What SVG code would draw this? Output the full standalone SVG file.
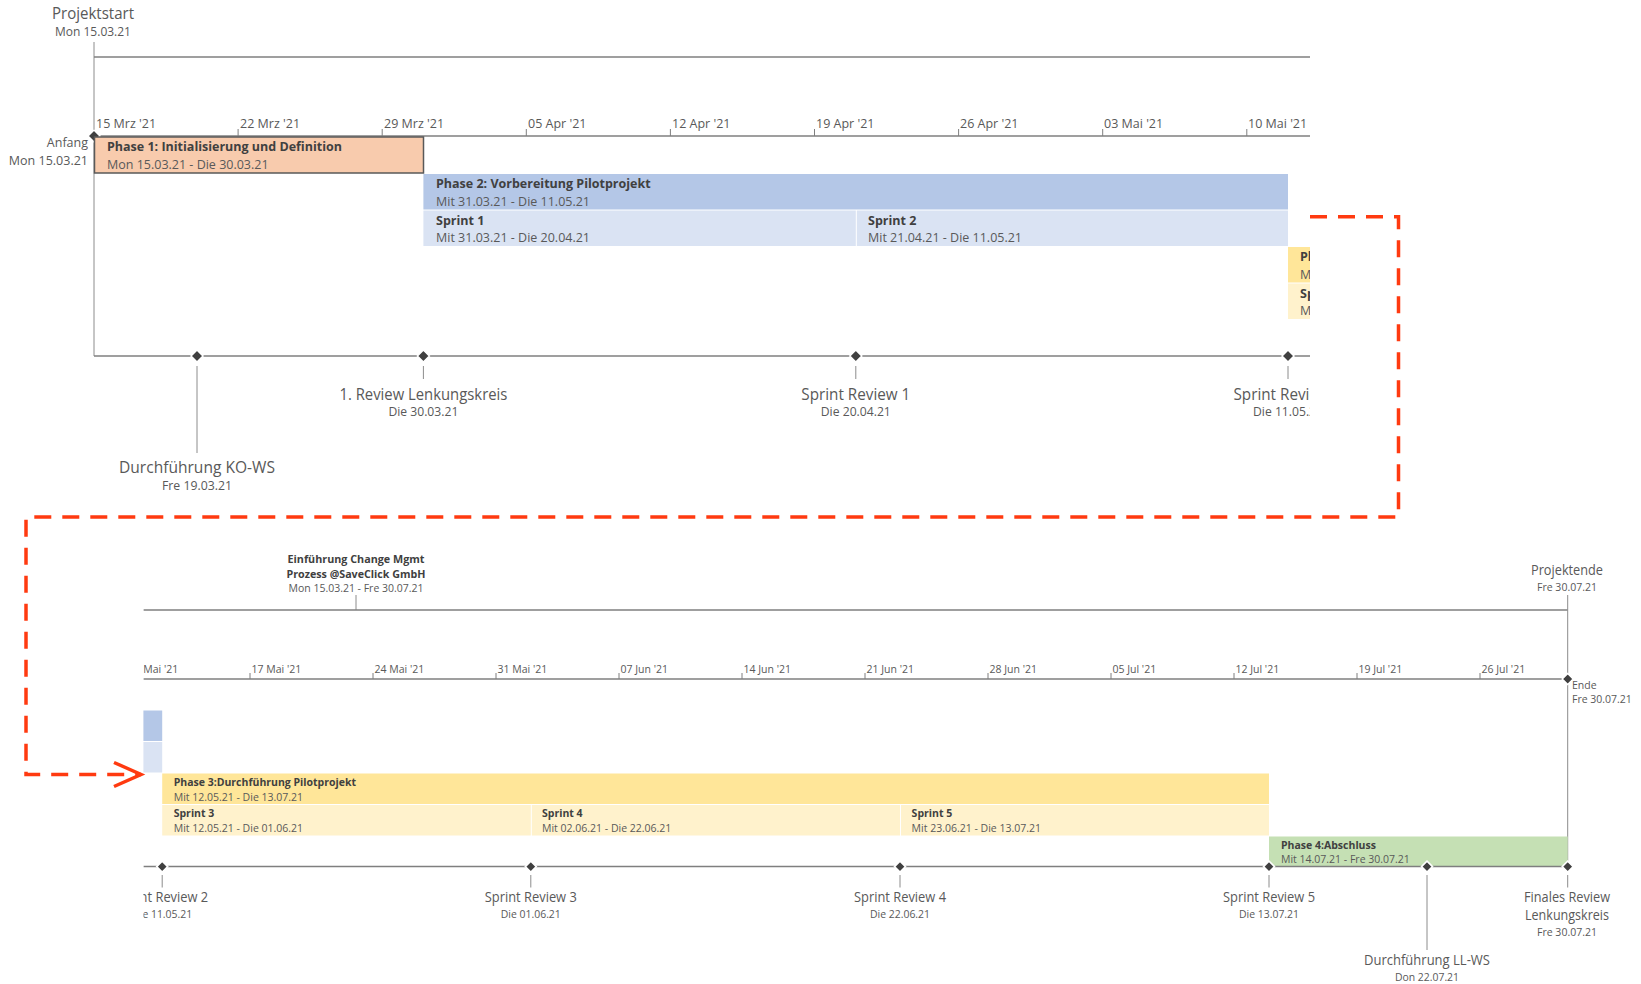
<svg xmlns="http://www.w3.org/2000/svg" width="1641" height="984" viewBox="0 0 1641 984">
<style>
.ax{stroke:#7f7f7f;stroke-width:1.5;fill:none}
.tk{stroke:#7f7f7f;stroke-width:1;fill:none}
.ln{stroke:#8c8c8c;stroke-width:1;fill:none}
.tl{font-family:"Open Sans","Noto Sans",sans-serif;font-size:12.5px;fill:#595959}
.tls{font-family:"Open Sans","Noto Sans",sans-serif;font-size:10.5px;fill:#595959}
.bt{font-family:"Open Sans","Noto Sans",sans-serif;font-size:12.5px;font-weight:700;fill:#404040}
.bd{font-family:"Open Sans","Noto Sans",sans-serif;font-size:12.5px;fill:#595959}
.bts{font-family:"Open Sans","Noto Sans",sans-serif;font-size:10.5px;font-weight:700;fill:#404040}
.bds{font-family:"Open Sans","Noto Sans",sans-serif;font-size:10.5px;fill:#595959}
.ml{font-family:"Open Sans","Noto Sans",sans-serif;font-size:17px;font-weight:400;fill:#595959}
.md{font-family:"Open Sans","Noto Sans",sans-serif;font-size:12.5px;fill:#595959}
.mls{font-family:"Open Sans","Noto Sans",sans-serif;font-size:14.5px;font-weight:400;fill:#595959}
.mds{font-family:"Open Sans","Noto Sans",sans-serif;font-size:10.5px;fill:#595959}
.dm{fill:#404040;stroke:#ffffff;stroke-width:1.5}
.c{text-anchor:middle}
.p1{fill:#f8cbad;stroke:#595959;stroke-width:1.5}
.p2{fill:#b4c7e7}
.s2{fill:#dae3f3}
.p3{fill:#ffe699}
.s3{fill:#fff2cc}
.p4{fill:#c5e0b4}
.red{stroke:#ff3a10;stroke-width:3.5;fill:none;stroke-dasharray:17 11}
</style>
<defs>
<clipPath id="clipTop"><rect x="0" y="0" width="1310" height="520"/></clipPath>
<clipPath id="clipBot"><rect x="143.4" y="520" width="1497.6" height="464"/></clipPath>
<marker id="open" markerWidth="34" markerHeight="30" refX="29" refY="15" orient="auto" markerUnits="userSpaceOnUse">
<path d="M2,3 L29,15 L2,27" stroke="#ff3a10" stroke-width="3.5" fill="none"/>
</marker>
</defs>
<rect x="0" y="0" width="1641" height="984" fill="#ffffff"/>

<!-- ===== TOP SECTION ===== -->
<g id="top-section" clip-path="url(#clipTop)">
<g id="projektstart">
<text class="c" x="93" y="19" style="font-family:'Open Sans','Noto Sans',sans-serif;font-size:16.5px;fill:#595959" textLength="82" lengthAdjust="spacingAndGlyphs">Projektstart</text>
<text class="tl c" x="93" y="36" textLength="76" lengthAdjust="spacingAndGlyphs">Mon 15.03.21</text>
<line class="ln" x1="94" y1="42" x2="94" y2="356"/>
</g>
<line class="ax" x1="94" y1="57" x2="1310" y2="57"/>
<g id="axis-top">
<line class="ax" x1="94" y1="136" x2="1310" y2="136"/>
<path class="tk" d="M94,129V136M238.1,129V136M382.2,129V136M526.3,129V136M670.4,129V136M814.5,129V136M958.6,129V136M1102.7,129V136M1246.8,129V136"/>
<text class="tl" x="96" y="128">15 Mrz '21</text>
<text class="tl" x="240" y="128">22 Mrz '21</text>
<text class="tl" x="384" y="128">29 Mrz '21</text>
<text class="tl" x="528" y="128">05 Apr '21</text>
<text class="tl" x="672" y="128">12 Apr '21</text>
<text class="tl" x="816" y="128">19 Apr '21</text>
<text class="tl" x="960" y="128">26 Apr '21</text>
<text class="tl" x="1104" y="128">03 Mai '21</text>
<text class="tl" x="1248" y="128">10 Mai '21</text>
</g>
<g id="anfang">
<polygon class="dm" points="94,130 100,136 94,142 88,136"/>
<text class="tl" x="88" y="146.5" text-anchor="end">Anfang</text>
<text class="tl" x="88" y="164.5" text-anchor="end">Mon 15.03.21</text>
</g>
<g id="phase1">
<rect class="p1" x="94.5" y="137" width="329" height="36"/>
<text class="bt" x="107" y="151">Phase 1: Initialisierung und Definition</text>
<text class="bd" x="107" y="168.5">Mon 15.03.21 - Die 30.03.21</text>
</g>
<g id="phase2">
<rect class="p2" x="423.4" y="174" width="864.6" height="35.5"/>
<text class="bt" x="436" y="188">Phase 2: Vorbereitung Pilotprojekt</text>
<text class="bd" x="436" y="205.5">Mit 31.03.21 - Die 11.05.21</text>
</g>
<g id="sprint1">
<rect class="s2" x="423.4" y="210.5" width="432.4" height="35.5"/>
<text class="bt" x="436" y="224.5">Sprint 1</text>
<text class="bd" x="436" y="242">Mit 31.03.21 - Die 20.04.21</text>
</g>
<g id="sprint2">
<rect class="s2" x="856.8" y="210.5" width="431.2" height="35.5"/>
<text class="bt" x="868" y="224.5">Sprint 2</text>
<text class="bd" x="868" y="242">Mit 21.04.21 - Die 11.05.21</text>
</g>
<g id="phase3-top">
<rect class="p3" x="1288" y="247" width="30" height="35.5"/>
<text class="bt" x="1300" y="261">Phase 3:Durchführung Pilotprojekt</text>
<text class="bd" x="1300" y="278.5">Mit 12.05.21 - Die 13.07.21</text>
</g>
<g id="sprint3-top">
<rect class="s3" x="1288" y="283.5" width="30" height="35.5"/>
<text class="bt" x="1300" y="297.5">Sprint 3</text>
<text class="bd" x="1300" y="315">Mit 12.05.21 - Die 01.06.21</text>
</g>
<line class="ax" x1="94" y1="356" x2="1310" y2="356"/>
<g id="ms-kows">
<line class="ln" x1="197" y1="366" x2="197" y2="453"/>
<polygon class="dm" points="197,350 203,356 197,362 191,356"/>
<text class="ml c" x="197" y="473" textLength="156" lengthAdjust="spacingAndGlyphs">Durchführung KO-WS</text>
<text class="md c" x="197" y="490" textLength="70" lengthAdjust="spacingAndGlyphs">Fre 19.03.21</text>
</g>
<g id="ms-review1">
<line class="ln" x1="423.4" y1="366" x2="423.4" y2="379"/>
<polygon class="dm" points="423.4,350 429.4,356 423.4,362 417.4,356"/>
<text class="ml c" x="423.4" y="399.5" textLength="168" lengthAdjust="spacingAndGlyphs">1. Review Lenkungskreis</text>
<text class="md c" x="423.4" y="415.5" textLength="70" lengthAdjust="spacingAndGlyphs">Die 30.03.21</text>
</g>
<g id="ms-sr1">
<line class="ln" x1="855.8" y1="366" x2="855.8" y2="379"/>
<polygon class="dm" points="855.8,350 861.8,356 855.8,362 849.8,356"/>
<text class="ml c" x="855.8" y="399.5" textLength="109" lengthAdjust="spacingAndGlyphs">Sprint Review 1</text>
<text class="md c" x="855.8" y="415.5" textLength="70" lengthAdjust="spacingAndGlyphs">Die 20.04.21</text>
</g>
<g id="ms-sr2-top">
<line class="ln" x1="1288" y1="366" x2="1288" y2="379"/>
<polygon class="dm" points="1288,350 1294,356 1288,362 1282,356"/>
<text class="ml c" x="1288" y="399.5" textLength="109" lengthAdjust="spacingAndGlyphs">Sprint Review 2</text>
<text class="md c" x="1288" y="415.5" textLength="70" lengthAdjust="spacingAndGlyphs">Die 11.05.21</text>
</g>
</g>

<!-- ===== BOTTOM SECTION ===== -->
<g id="bottom-section" clip-path="url(#clipBot)">
<g id="title">
<text class="bts c" x="356" y="563" textLength="137" lengthAdjust="spacingAndGlyphs">Einführung Change Mgmt</text>
<text class="bts c" x="356" y="577.5" textLength="139" lengthAdjust="spacingAndGlyphs">Prozess @SaveClick GmbH</text>
<text class="bds c" x="356" y="592" textLength="135" lengthAdjust="spacingAndGlyphs">Mon 15.03.21 - Fre 30.07.21</text>
<line class="ln" x1="356" y1="595" x2="356" y2="610"/>
</g>
<line class="ax" x1="143.4" y1="610" x2="1567.7" y2="610"/>
<g id="projektende">
<text class="c" x="1567" y="575" style="font-family:'Open Sans','Noto Sans',sans-serif;font-size:14px;fill:#595959" textLength="72" lengthAdjust="spacingAndGlyphs">Projektende</text>
<text class="tls c" x="1567" y="591" textLength="60" lengthAdjust="spacingAndGlyphs">Fre 30.07.21</text>
<line class="ln" x1="1567.7" y1="595" x2="1567.7" y2="866"/>
</g>
<g id="axis-bottom">
<line class="ax" x1="143.4" y1="679" x2="1567.7" y2="679"/>
<path class="tk" d="M127,673V679M250,673V679M373,673V679M496,673V679M619,673V679M742,673V679M865,673V679M988,673V679M1111,673V679M1234,673V679M1357,673V679M1480,673V679"/>
<text class="tls" x="128.5" y="672.5">10 Mai '21</text>
<text class="tls" x="251.5" y="672.5">17 Mai '21</text>
<text class="tls" x="374.5" y="672.5">24 Mai '21</text>
<text class="tls" x="497.5" y="672.5">31 Mai '21</text>
<text class="tls" x="620.5" y="672.5">07 Jun '21</text>
<text class="tls" x="743.5" y="672.5">14 Jun '21</text>
<text class="tls" x="866.5" y="672.5">21 Jun '21</text>
<text class="tls" x="989.5" y="672.5">28 Jun '21</text>
<text class="tls" x="1112.5" y="672.5">05 Jul '21</text>
<text class="tls" x="1235.5" y="672.5">12 Jul '21</text>
<text class="tls" x="1358.5" y="672.5">19 Jul '21</text>
<text class="tls" x="1481.5" y="672.5">26 Jul '21</text>
</g>
<g id="ende">
<polygon class="dm" points="1567.7,673.5 1573.2,679 1567.7,684.5 1562.2,679"/>
<text class="tls" x="1572" y="688.5">Ende</text>
<text class="tls" x="1572" y="703">Fre 30.07.21</text>
</g>
<g id="phase2-bottom">
<rect class="p2" x="100" y="710.5" width="62.2" height="30.5"/>
<rect class="s2" x="100" y="742" width="62.2" height="30.5"/>
</g>
<g id="phase3">
<rect class="p3" x="162.2" y="773.5" width="1106.8" height="30.5"/>
<text class="bts" x="173.7" y="786">Phase 3:Durchführung Pilotprojekt</text>
<text class="bds" x="173.7" y="800.5">Mit 12.05.21 - Die 13.07.21</text>
</g>
<g id="sprint3">
<rect class="s3" x="162.2" y="805" width="368.6" height="30.5"/>
<text class="bts" x="173.7" y="817">Sprint 3</text>
<text class="bds" x="173.7" y="831.5">Mit 12.05.21 - Die 01.06.21</text>
</g>
<g id="sprint4">
<rect class="s3" x="531.8" y="805" width="368.2" height="30.5"/>
<text class="bts" x="542" y="817">Sprint 4</text>
<text class="bds" x="542" y="831.5">Mit 02.06.21 - Die 22.06.21</text>
</g>
<g id="sprint5">
<rect class="s3" x="901" y="805" width="368" height="30.5"/>
<text class="bts" x="911.6" y="817">Sprint 5</text>
<text class="bds" x="911.6" y="831.5">Mit 23.06.21 - Die 13.07.21</text>
</g>
<g id="phase4">
<rect class="p4" x="1269" y="836.5" width="298.7" height="30"/>
<text class="bts" x="1281" y="849">Phase 4:Abschluss</text>
<text class="bds" x="1281" y="863">Mit 14.07.21 - Fre 30.07.21</text>
</g>
<line class="ax" x1="143.4" y1="866.6" x2="1567.7" y2="866.6"/>
<g id="ms-sr2">
<line class="ln" x1="162.2" y1="875" x2="162.2" y2="887.5"/>
<polygon class="dm" points="162.2,861.1 167.7,866.6 162.2,872.1 156.7,866.6"/>
<text class="mls c" x="162.2" y="902" textLength="92" lengthAdjust="spacingAndGlyphs">Sprint Review 2</text>
<text class="mds c" x="162.2" y="917.5" textLength="60" lengthAdjust="spacingAndGlyphs">Die 11.05.21</text>
</g>
<g id="ms-sr3">
<line class="ln" x1="530.8" y1="875" x2="530.8" y2="887.5"/>
<polygon class="dm" points="530.8,861.1 536.3,866.6 530.8,872.1 525.3,866.6"/>
<text class="mls c" x="530.8" y="902" textLength="92" lengthAdjust="spacingAndGlyphs">Sprint Review 3</text>
<text class="mds c" x="530.8" y="917.5" textLength="60" lengthAdjust="spacingAndGlyphs">Die 01.06.21</text>
</g>
<g id="ms-sr4">
<line class="ln" x1="900" y1="875" x2="900" y2="887.5"/>
<polygon class="dm" points="900,861.1 905.5,866.6 900,872.1 894.5,866.6"/>
<text class="mls c" x="900" y="902" textLength="92" lengthAdjust="spacingAndGlyphs">Sprint Review 4</text>
<text class="mds c" x="900" y="917.5" textLength="60" lengthAdjust="spacingAndGlyphs">Die 22.06.21</text>
</g>
<g id="ms-sr5">
<line class="ln" x1="1269" y1="875" x2="1269" y2="887.5"/>
<polygon class="dm" points="1269,861.1 1274.5,866.6 1269,872.1 1263.5,866.6"/>
<text class="mls c" x="1269" y="902" textLength="92" lengthAdjust="spacingAndGlyphs">Sprint Review 5</text>
<text class="mds c" x="1269" y="917.5" textLength="60" lengthAdjust="spacingAndGlyphs">Die 13.07.21</text>
</g>
<g id="ms-llws">
<line class="ln" x1="1427" y1="875" x2="1427" y2="950"/>
<polygon class="dm" points="1427,861.1 1432.5,866.6 1427,872.1 1421.5,866.6"/>
<text class="mls c" x="1427" y="965" textLength="126" lengthAdjust="spacingAndGlyphs">Durchführung LL-WS</text>
<text class="mds c" x="1427" y="980.5" textLength="64" lengthAdjust="spacingAndGlyphs">Don 22.07.21</text>
</g>
<g id="ms-final">
<line class="ln" x1="1567.7" y1="875" x2="1567.7" y2="887.5"/>
<polygon class="dm" points="1567.7,861.1 1573.2,866.6 1567.7,872.1 1562.2,866.6"/>
<text class="mls c" x="1567" y="902" textLength="86" lengthAdjust="spacingAndGlyphs">Finales Review</text>
<text class="mls c" x="1567" y="920" textLength="84" lengthAdjust="spacingAndGlyphs">Lenkungskreis</text>
<text class="mds c" x="1567" y="935.5" textLength="60" lengthAdjust="spacingAndGlyphs">Fre 30.07.21</text>
</g>
</g>

<!-- ===== CONNECTORS ===== -->
<g id="connectors">
<path class="red" d="M1310,216.7 H1398.5 V517 H26 V774.5 H141" marker-end="url(#open)"/>
</g>
</svg>
